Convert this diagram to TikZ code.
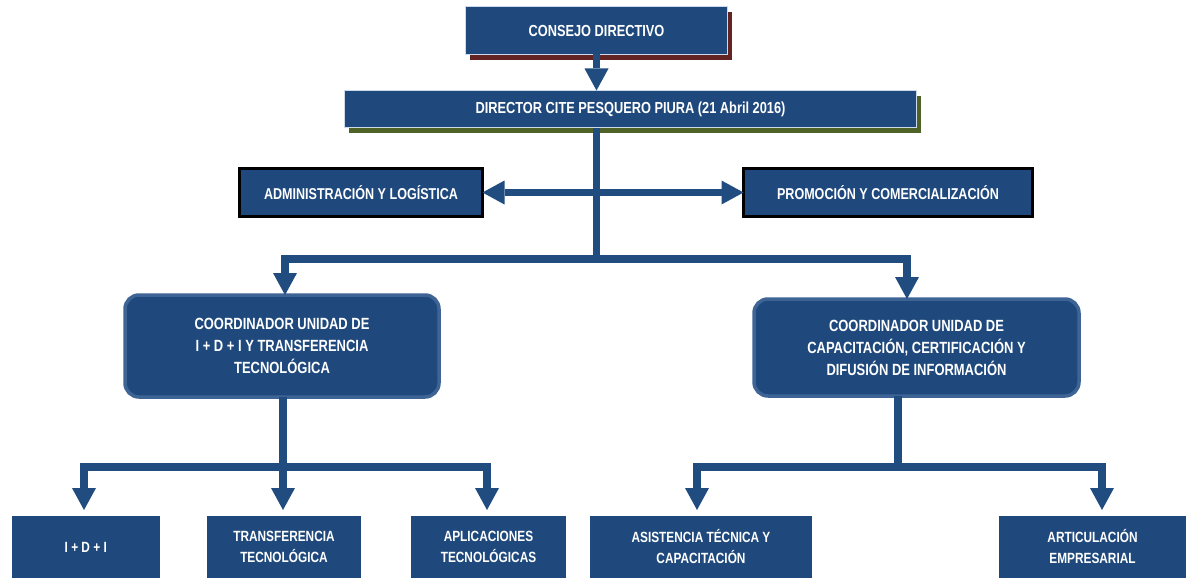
\documentclass[tikz,border=0pt]{standalone}
\usepackage{fontspec}
\setmainfont{Liberation Sans}[FakeStretch=0.8]
\usetikzlibrary{arrows.meta,backgrounds}

\definecolor{boxblue}{RGB}{31,73,125}
\definecolor{lineblue}{RGB}{32,76,128}
\definecolor{shadowred}{RGB}{99,37,35}
\definecolor{shadowgreen}{RGB}{79,98,40}
\definecolor{paleedge}{RGB}{205,218,236}
\definecolor{rimblue}{RGB}{62,100,150}

\begin{document}
\begin{tikzpicture}[x=1pt,y=-1pt,
  every node/.style={inner sep=0pt, outer sep=0pt, text=white, align=center},
  boxbase/.style={fill=boxblue},
  topbox/.style={boxbase, draw=paleedge, line width=1pt,
    font=\bfseries\fontsize{16}{22}\selectfont},
  staffbox/.style={boxbase, draw=black, line width=3pt,
    font=\bfseries\fontsize{15.7}{21}\selectfont},
  unitbox/.style={boxbase, draw=rimblue, line width=3.5pt, rounded corners=14pt,
    font=\bfseries\fontsize{16.2}{22}\selectfont},
  leafbox/.style={boxbase, font=\bfseries\fontsize{14.8}{21}\selectfont},
  conn/.style={draw=lineblue, line width=7.5pt, line join=miter},
  headtip/.tip={Triangle[width=24pt,length=22pt,line width=0pt]},
  arr/.style={conn, -headtip},
  arrtwo/.style={conn, headtip-headtip},
]
\useasboundingbox (0,0) rectangle (1186,578);

% governing boxes
\node[topbox, minimum width=262pt, minimum height=48pt] (consejo) at (596.5,30.5)
  {CONSEJO DIRECTIVO};
\node[topbox, minimum width=572pt, minimum height=37pt] (director) at (630.5,109)
  {DIRECTOR CITE PESQUERO PIURA (21 Abril 2016)};

% staff boxes
\node[staffbox, minimum width=243pt, minimum height=48pt] (admin) at (361,192.5)
  {ADMINISTRACIÓN Y LOGÍSTICA};
\node[staffbox, minimum width=289pt, minimum height=48pt] (promo) at (888,192.5)
  {PROMOCIÓN Y COMERCIALIZACIÓN};

% coordinating units
\node[unitbox, minimum width=314pt, minimum height=102pt] (unitL) at (282,346)
  {COORDINADOR UNIDAD DE\\I + D + I Y TRANSFERENCIA\\TECNOLÓGICA};
\node[unitbox, minimum width=325pt, minimum height=97pt] (unitR) at (916.5,347.5)
  {COORDINADOR UNIDAD DE\\CAPACITACIÓN, CERTIFICACIÓN Y\\DIFUSIÓN DE INFORMACIÓN};

% operational areas
\node[leafbox, minimum width=148.5pt, minimum height=62pt] (idi) at (85.75,547) {I + D + I};
\node[leafbox, minimum width=154pt, minimum height=62pt] (trf) at (284,547)
  {TRANSFERENCIA\\TECNOLÓGICA};
\node[leafbox, minimum width=155pt, minimum height=62pt] (apl) at (488.5,547)
  {APLICACIONES\\TECNOLÓGICAS};
\node[leafbox, minimum width=222pt, minimum height=62pt] (asi) at (701,547)
  {ASISTENCIA TÉCNICA Y\\CAPACITACIÓN};
\node[leafbox, minimum width=187pt, minimum height=62pt] (art) at (1092.5,547)
  {ARTICULACIÓN\\EMPRESARIAL};

% drop shadows
\begin{scope}[on background layer]
  \fill[shadowred] ([shift={(4,6)}]consejo.south west) rectangle ([shift={(4,6)}]consejo.north east);
  \fill[shadowgreen] ([shift={(4,5)}]director.south west) rectangle ([shift={(4,5)}]director.north east);
\end{scope}

% connectors
\coordinate (hubrow) at (0,259);
\coordinate (lowrow) at (0,467);
\coordinate (hub) at (consejo.south |- hubrow);

\draw[arr] (consejo.south) -- (consejo.south |- director.north);
\draw[conn] (consejo.south |- director.south) -- (hub);
\draw[arrtwo] (admin.east) -- (admin.east -| promo.west);
\draw[arr] (hub) -| ([xshift=3pt]unitL.north);
\draw[arr] (hub) -| ([xshift=-9.5pt]unitR.north);

\path ([xshift=1pt]unitL.south) coordinate (stemL);
\coordinate (jL) at (stemL |- lowrow);
\draw[conn] (stemL) -- (jL);
\draw[arr, shorten >=6pt] (jL) -| ([xshift=-1.75pt]idi.north);
\draw[arr, shorten >=6pt] (jL) -- (jL |- trf.north);
\draw[arr, shorten >=6pt] (jL) -| ([xshift=-1.5pt]apl.north);

\path ([xshift=-18.5pt]unitR.south) coordinate (stemR);
\coordinate (jR) at (stemR |- lowrow);
\draw[conn] (stemR) -- (jR);
\draw[arr, shorten >=6pt] (jR) -| ([xshift=-4pt]asi.north);
\draw[arr, shorten >=6pt] (jR) -| ([xshift=9.5pt]art.north);
\end{tikzpicture}
\end{document}
